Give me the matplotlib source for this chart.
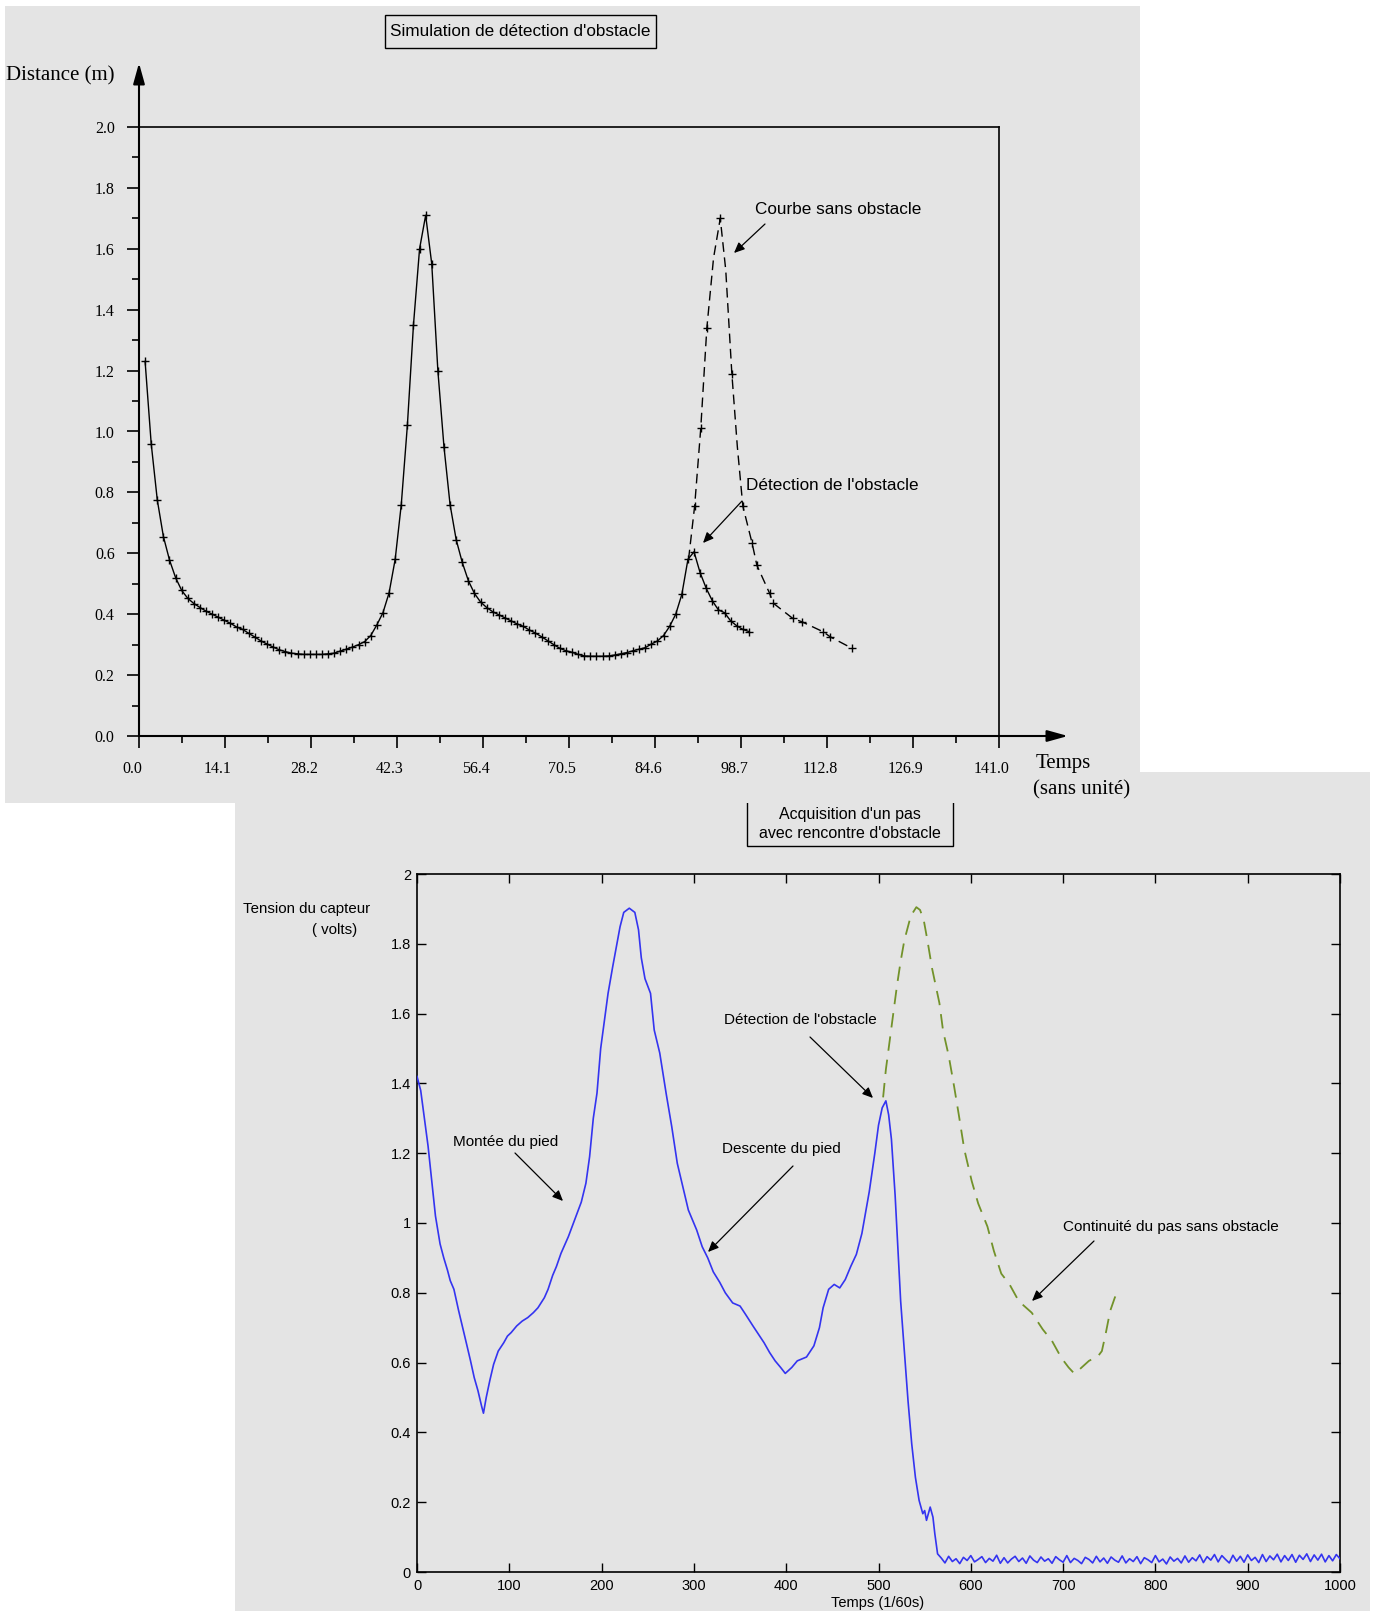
import numpy as np
import matplotlib
matplotlib.use("Agg")
import matplotlib.pyplot as plt
from matplotlib.patches import Rectangle, FancyArrowPatch
from matplotlib.ticker import MultipleLocator, FixedLocator, FuncFormatter
import matplotlib.transforms as mtrans

# ---------------- data: top panel (simulation) ----------------
sim_time = list(range(1, 101))
sim_distance = [1.23, 0.96, 0.775, 0.655, 0.578, 0.52, 0.478, 0.452, 0.435, 0.422,
                0.41, 0.40, 0.39, 0.38, 0.37, 0.358, 0.35, 0.337, 0.325, 0.312,
                0.302, 0.292, 0.283, 0.277, 0.272, 0.27, 0.268, 0.268, 0.268, 0.268,
                0.27, 0.272, 0.279, 0.285, 0.292, 0.30, 0.31, 0.33, 0.365, 0.405,
                0.47, 0.58, 0.76, 1.02, 1.35, 1.60, 1.71, 1.55, 1.20, 0.95,
                0.76, 0.645, 0.57, 0.51, 0.468, 0.44, 0.422, 0.408, 0.398, 0.388,
                0.378, 0.368, 0.36, 0.348, 0.338, 0.326, 0.313, 0.30, 0.288, 0.28,
                0.275, 0.268, 0.263, 0.262, 0.262, 0.262, 0.263, 0.266, 0.27, 0.274,
                0.28, 0.285, 0.29, 0.302, 0.312, 0.33, 0.36, 0.40, 0.465, 0.58,
                0.605, 0.536, 0.485, 0.444, 0.414, 0.405, 0.378, 0.362, 0.35, 0.343]
free_time = [90.1, 91.1, 92.1, 93.1, 94.2, 95.3, 96.2, 97.2, 98.1, 99.0,
             100.5, 101.3, 103.4, 104.0, 107.2, 108.7, 112.2, 113.3, 116.9]
free_distance = [0.58, 0.755, 1.01, 1.34, 1.57, 1.70, 1.53, 1.19, 0.95, 0.755,
                 0.635, 0.561, 0.468, 0.436, 0.386, 0.375, 0.342, 0.326, 0.288]
sim_xticks = [0.0, 14.1, 28.2, 42.3, 56.4, 70.5, 84.6, 98.7, 112.8, 126.9, 141.0]

# ---------------- data: bottom panel (acquisition) ----------------
acq_t = [0, 4, 8, 12, 16, 20, 25, 29, 33, 36, 40, 45, 50, 54, 58, 62, 66, 70, 72, 75,
         79, 83, 88, 94, 98, 102, 108, 114, 120, 126, 131, 138, 142, 147, 151, 156, 164, 172, 178, 183,
         187, 191, 195, 199, 203, 207, 212, 216, 220, 224, 230, 236, 240, 243, 247, 253, 257, 263, 270, 276,
         282, 288, 294, 303, 309, 315, 321, 328, 334, 342, 350, 356, 364, 370, 376, 382, 388, 394, 399, 406,
         412, 422, 430, 436, 440, 446, 452, 458, 464, 470, 476, 482, 490, 496, 500, 504, 508, 511, 514, 518,
         521, 524, 528, 532, 536, 540, 544, 548, 550, 552, 556, 559, 561, 564]
acq_v = [1.42, 1.38, 1.30, 1.22, 1.12, 1.02, 0.94, 0.90, 0.865, 0.835, 0.81, 0.75, 0.695, 0.65, 0.605, 0.557, 0.52, 0.475, 0.455, 0.50,
         0.55, 0.595, 0.633, 0.657, 0.676, 0.686, 0.705, 0.719, 0.729, 0.743, 0.757, 0.786, 0.81, 0.85, 0.875, 0.913, 0.961, 1.018, 1.06, 1.114,
         1.19, 1.30, 1.372, 1.50, 1.58, 1.658, 1.734, 1.792, 1.849, 1.89, 1.902, 1.89, 1.84, 1.76, 1.70, 1.658, 1.553, 1.487, 1.37, 1.276,
         1.171, 1.104, 1.037, 0.98, 0.932, 0.90, 0.86, 0.83, 0.80, 0.771, 0.762, 0.738, 0.705, 0.681, 0.657, 0.629, 0.605, 0.586, 0.569, 0.586,
         0.605, 0.616, 0.648, 0.70, 0.757, 0.81, 0.824, 0.814, 0.838, 0.876, 0.91, 0.97, 1.09, 1.20, 1.28, 1.33, 1.35, 1.31, 1.24, 1.08,
         0.93, 0.776, 0.633, 0.49, 0.367, 0.271, 0.205, 0.167, 0.176, 0.148, 0.186, 0.157, 0.11, 0.052]
noise_t = list(range(568, 1001, 4))
noise_v = [0.040, 0.026, 0.045, 0.030, 0.038, 0.024, 0.042, 0.033, 0.047, 0.029,
           0.036, 0.044, 0.027, 0.039, 0.031, 0.048, 0.025, 0.041, 0.026, 0.037,
           0.045, 0.030, 0.040, 0.025, 0.046, 0.034, 0.027, 0.043, 0.031, 0.038,
           0.025, 0.044, 0.035, 0.028, 0.047, 0.027, 0.039, 0.033, 0.024, 0.042,
           0.036, 0.026, 0.045, 0.029, 0.040, 0.025, 0.043, 0.034, 0.028, 0.046,
           0.026, 0.038, 0.030, 0.044, 0.024, 0.041, 0.035, 0.027, 0.047, 0.029,
           0.037, 0.023, 0.043, 0.031, 0.039, 0.026, 0.046, 0.028, 0.041, 0.032,
           0.049, 0.027, 0.044, 0.034, 0.050, 0.029, 0.047, 0.036, 0.026, 0.048,
           0.031, 0.045, 0.028, 0.049, 0.033, 0.042, 0.027, 0.050, 0.030, 0.046,
           0.035, 0.051, 0.029, 0.047, 0.033, 0.050, 0.028, 0.048, 0.036, 0.052,
           0.030, 0.049, 0.034, 0.051, 0.029, 0.047, 0.032, 0.050, 0.038]
cont_t = [505, 508, 512, 516, 520, 524, 528, 535, 541, 545, 549, 553, 558, 562, 566, 570, 576, 582, 587, 593,
          601, 608, 618, 625, 633, 642, 652, 666, 678, 688, 698, 706, 712, 718, 728, 738, 742, 746, 751, 756, 760]
cont_v = [1.36, 1.44, 1.52, 1.60, 1.68, 1.75, 1.81, 1.88, 1.905, 1.897, 1.868, 1.81, 1.73, 1.68, 1.63, 1.55, 1.48, 1.39, 1.31, 1.21,
          1.12, 1.056, 0.99, 0.92, 0.855, 0.824, 0.776, 0.743, 0.695, 0.662, 0.614, 0.586, 0.569, 0.581, 0.605, 0.619, 0.633, 0.681, 0.748, 0.786, 0.81]

assert len(acq_t) == len(acq_v) and len(noise_t) == len(noise_v) and len(cont_t) == len(cont_v)

# ---------------- figure ----------------
W, H = 1376, 1611
fig = plt.figure(figsize=(W / 100, H / 100), dpi=100)
fig.patch.set_facecolor("white")
GREY = "#e4e4e4"
SERIF = "Liberation Serif"
SANS = "Liberation Sans"


def fx(x):
    return x / W


def fy(y):
    return 1 - y / H


def rect_px(x0, y0, x1, y1, **kw):
    r = Rectangle((fx(x0), fy(y1)), fx(x1) - fx(x0), fy(y0) - fy(y1),
                  transform=fig.transFigure, **kw)
    fig.patches.append(r)
    return r


def arrow_px(x0, y0, x1, y1):
    a = FancyArrowPatch((fx(x0), fy(y0)), (fx(x1), fy(y1)), transform=fig.transFigure,
                        arrowstyle="-|>,head_length=0.45,head_width=0.2", mutation_scale=14,
                        lw=0.9, color="black", shrinkA=0, shrinkB=0, zorder=5)
    fig.patches.append(a)


def text_px(x, y, s, **kw):
    fig.text(fx(x), fy(y), s, **kw)


# backgrounds: bottom panel, its title box, then top panel over it
rect_px(235, 772, 1370, 1611, facecolor=GREY, edgecolor="none", zorder=-10)
rect_px(747, 790, 953, 846, facecolor="none", edgecolor="black", lw=1.0, zorder=-9)
rect_px(5, 6, 1140, 803, facecolor=GREY, edgecolor="none", zorder=-8)
rect_px(385, 15, 656, 48, facecolor="none", edgecolor="black", lw=1.0, zorder=-7)

# ---------------- top axes ----------------
ax1 = fig.add_axes([fx(139), fy(736), (999 - 139) / W, (736 - 127) / H])
ax1.set_facecolor("none")
ax1.set_xlim(0, 141)
ax1.set_ylim(0, 2.0)
for s in ("left", "bottom"):
    ax1.spines[s].set_visible(False)
for s in ("top", "right"):
    ax1.spines[s].set_linewidth(1.2)
    ax1.spines[s].set_color("black")

ax1.plot(sim_time, sim_distance, color="black", lw=1.0, marker="+", ms=6, mew=1.0,
         clip_on=False, zorder=3)
ax1.plot(free_time, free_distance, color="black", lw=1.0, ls=(0, (7, 4)), marker="+", ms=6,
         mew=1.0, markevery=[1, 2, 3, 5, 7, 9, 10, 11, 12, 13, 14, 15, 16, 17, 18], zorder=3)

# axis arrows
ax1.annotate("", xy=(0, 2.21), xytext=(0, 0), xycoords="data", annotation_clip=False,
             arrowprops=dict(arrowstyle="-|>,head_length=0.9,head_width=0.25", mutation_scale=14,
                             lw=1.5, color="black", shrinkA=0, shrinkB=0))
ax1.annotate("", xy=(152.3, 0), xytext=(0, 0), xycoords="data", annotation_clip=False,
             arrowprops=dict(arrowstyle="-|>,head_length=0.9,head_width=0.25", mutation_scale=14,
                             lw=1.5, color="black", shrinkA=0, shrinkB=0))

ax1.yaxis.set_major_locator(MultipleLocator(0.2))
ax1.yaxis.set_minor_locator(MultipleLocator(0.1))
ax1.yaxis.set_major_formatter(FuncFormatter(lambda v, p: f"{v:.1f}"))
ax1.xaxis.set_major_locator(FixedLocator(sim_xticks))
ax1.xaxis.set_minor_locator(FixedLocator([(a + b) / 2 for a, b in zip(sim_xticks[:-1], sim_xticks[1:])]))
ax1.xaxis.set_major_formatter(FuncFormatter(lambda v, p: f"{v:.1f}"))
ax1.tick_params(axis="both", which="both", direction="out", colors="black", width=1.2,
                top=False, right=False, labelfontfamily=SERIF, labelsize=11.5)
ax1.tick_params(axis="both", which="major", length=8.5)
ax1.tick_params(axis="both", which="minor", length=4.7)
ax1.tick_params(axis="y", which="major", pad=9)
ax1.tick_params(axis="x", which="major", pad=9.5)

text_px(6, 76, "Distance (m)", ha="left", va="center", family=SERIF, size=15)
text_px(1036, 764, "Temps", ha="left", va="center", family=SERIF, size=15)
text_px(1033, 790, "(sans unité)", ha="left", va="center", family=SERIF, size=15)
text_px(520.5, 31, "Simulation de détection d'obstacle", ha="center", va="center", family=SANS, size=12.3)

text_px(755, 209, "Courbe sans obstacle", ha="left", va="center", family=SANS, size=12.3)
arrow_px(765, 224, 734, 253)
text_px(746, 486, "Détection de l'obstacle", ha="left", va="center", family=SANS, size=12.3)
arrow_px(742, 501, 703, 543)

# ---------------- bottom axes ----------------
ax2 = fig.add_axes([fx(417), fy(1572), (1340 - 417) / W, (1572 - 874) / H])
ax2.set_facecolor("none")
ax2.set_xlim(0, 1000)
ax2.set_ylim(0, 2)
for s in ax2.spines.values():
    s.set_linewidth(1.2)
    s.set_color("black")

ax2.plot(list(acq_t) + list(noise_t), list(acq_v) + list(noise_v), color="#3434f0", lw=1.2, zorder=3)
ax2.plot(cont_t, cont_v, color="#72922a", lw=1.3, ls=(0, (8, 5)), zorder=3)

ax2.xaxis.set_major_locator(MultipleLocator(100))
ax2.yaxis.set_major_locator(MultipleLocator(0.2))
ax2.yaxis.set_major_formatter(FuncFormatter(lambda v, p: f"{round(v, 1):g}"))
ax2.tick_params(axis="both", which="major", direction="in", length=6.5, width=1.0,
                top=True, right=True, colors="black", labelsize=10.5, labelfontfamily=SANS)
ax2.tick_params(axis="y", pad=4.3)
ax2.tick_params(axis="x", pad=5)

text_px(850, 814, "Acquisition d'un pas", ha="center", va="center", family=SANS, size=11.5)
text_px(850, 834, "avec rencontre d'obstacle", ha="center", va="center", family=SANS, size=11.5)
text_px(243, 909, "Tension du capteur", ha="left", va="center", family=SANS, size=10.8)
text_px(312, 930, "( volts)", ha="left", va="center", family=SANS, size=10.8)
text_px(878, 1603, "Temps (1/60s)", ha="center", va="center", family=SANS, size=10.5)

text_px(453, 1142, "Montée du pied", ha="left", va="center", family=SANS, size=11)
arrow_px(515, 1153, 563, 1201)
text_px(722, 1149, "Descente du pied", ha="left", va="center", family=SANS, size=11)
arrow_px(793, 1166, 708, 1252)
text_px(724, 1020, "Détection de l'obstacle", ha="left", va="center", family=SANS, size=11)
arrow_px(810, 1037, 873, 1098)
text_px(1063, 1227, "Continuité du pas sans obstacle", ha="left", va="center", family=SANS, size=11)
arrow_px(1094, 1241, 1032, 1301)

# shift top x tick labels slightly left, as in the reference
offset = mtrans.ScaledTranslation(-7 / 100, 0, fig.dpi_scale_trans)
for lbl in ax1.get_xticklabels():
    lbl.set_transform(lbl.get_transform() + offset)

fig.savefig("out.png", dpi=100)
